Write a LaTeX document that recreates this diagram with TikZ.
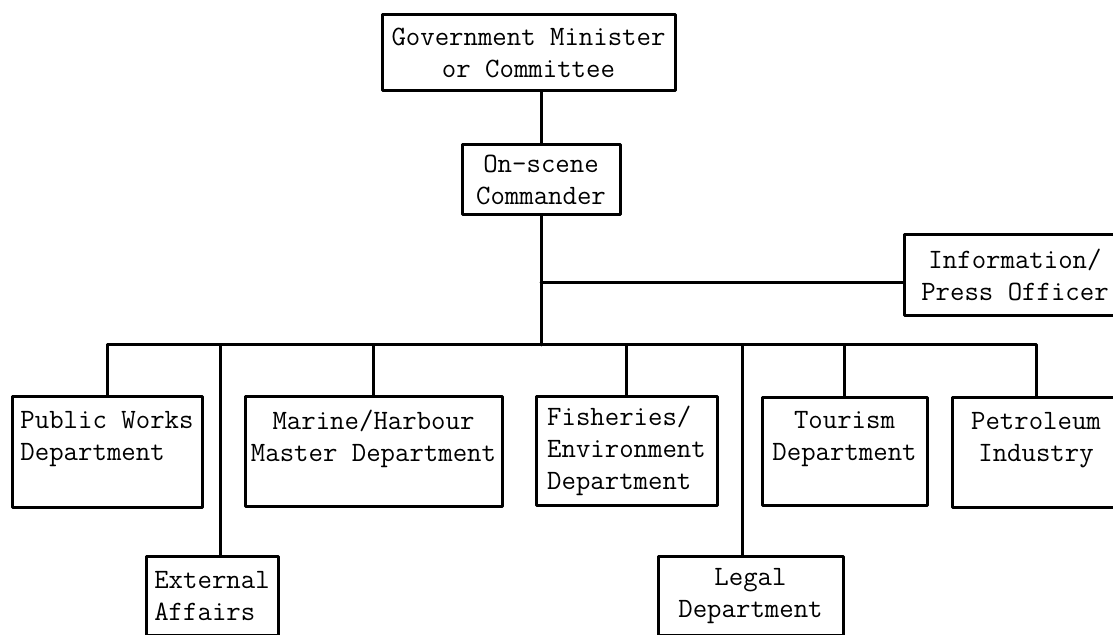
\documentclass[tikz,border=0pt]{standalone}
\begin{document}
\begin{tikzpicture}[line cap=round,line join=round,x=0.5pt,y=-0.5pt,
	unit/.style={draw,line width=1.5pt,anchor=north,inner sep=0pt,align=center,font=\fontsize{14}{16}\selectfont\ttfamily},
	link/.style={line width=1.5pt}]
	\useasboundingbox (0,0) rectangle (1113,635);
	\node[unit,minimum width=146.5pt,minimum height=38pt] (gov) at (528.5,13) {Government Minister\\or Committee};
	\node[unit,minimum width=79pt,minimum height=35pt] (scene) at (541,143) {On-scene\\Commander};
	\node[unit,minimum width=111pt,minimum height=40.5pt] (info) at (1015,233) {Information/\\Press Officer};
	\node[unit,align=left,minimum width=95pt,minimum height=55.5pt] (pw) at (107,395) {Public Works\\Department\\\mbox{}};
	\node[unit,minimum width=128.5pt,minimum height=55pt] (marine) at (373.5,395) {Marine/Harbour\\Master Department\\\mbox{}};
	\node[unit,align=left,minimum width=90.5pt,minimum height=54.5pt] (fish) at (626.5,395) {Fisheries/\\Environment\\Department};
	\node[unit,minimum width=82.5pt,minimum height=54pt] (tour) at (844.5,396) {Tourism\\Department\\\mbox{}};
	\node[unit,minimum width=84pt,minimum height=55pt] (petro) at (1036,396) {Petroleum\\Industry\\\mbox{}};
	\node[unit,align=left,minimum width=66pt,minimum height=39.5pt] (ext) at (212,555) {External\\Affairs};
	\node[unit,minimum width=92.5pt,minimum height=39.5pt] (legal) at (750.5,555) {Legal\\Department};
	\coordinate (bus) at (541,345);
	\draw[link] (gov.south -| scene.north) -- (scene.north);
	\draw[link] (scene.south) -- (bus);
	\draw[link] ([yshift=-4pt]info.west) -- ([yshift=-4pt]info.west -| scene.south);
	\draw[link] (pw.north) |- (bus) -| (petro.north);
	\foreach \d in {marine,fish,tour}
		\draw[link] (\d.north) -- (\d.north |- bus);
	\draw[link] ([xshift=4pt]ext.north) -- ([xshift=4pt]ext.north |- bus);
	\draw[link] ([xshift=-4pt]legal.north) -- ([xshift=-4pt]legal.north |- bus);
\end{tikzpicture}
\end{document}
